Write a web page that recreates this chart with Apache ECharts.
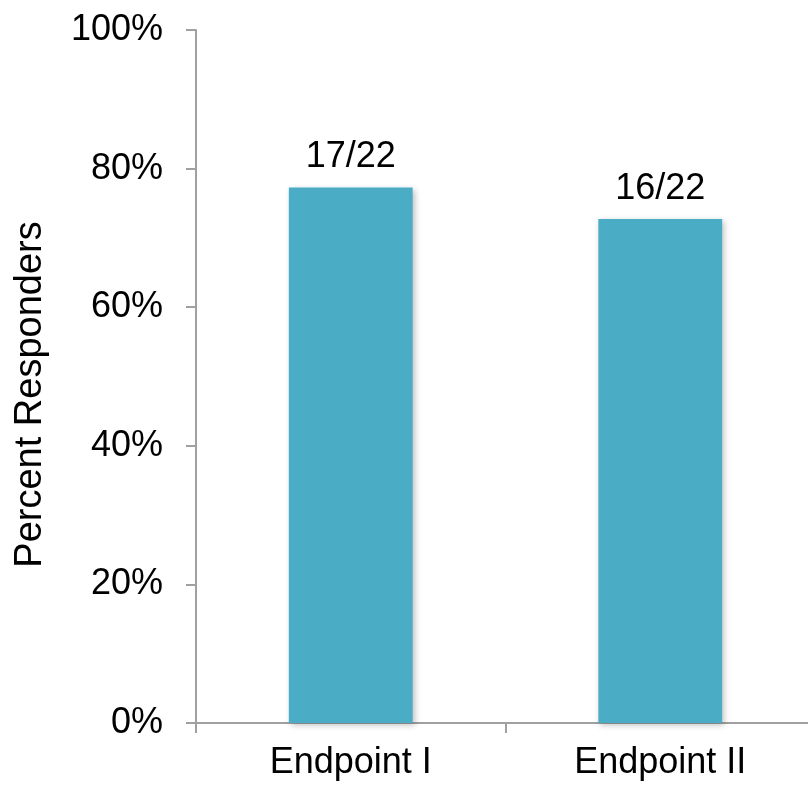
<!DOCTYPE html>
<html>
<head>
<meta charset="utf-8">
<style>
  html, body { margin: 0; padding: 0; background: #fff; }
  #chart { width: 808px; height: 786px; }
</style>
<script src="https://cdn.jsdelivr.net/npm/echarts@6/dist/echarts.min.js"></script>
</head>
<body>
<div id="chart"></div>
<script>
// Responders per endpoint, out of the total evaluated
const categories = ['Endpoint I', 'Endpoint II'];
const responders = [17, 16];
const totals = [22, 22];
const yTickLabels = ['0%', '20%', '40%', '60%', '80%', '100%'];

const percents = responders.map((r, i) => r / totals[i] * 100);
const fractionLabels = responders.map((r, i) => r + '/' + totals[i]);

const axisGray = '#a0a0a0';
const font = 'Liberation Sans, Arial, Helvetica, sans-serif';

const chart = echarts.init(document.getElementById('chart'), null, { renderer: 'canvas' });
chart.setOption({
  animation: false,
  backgroundColor: '#ffffff',
  // plot area runs a little past the right edge of the canvas
  grid: { left: 196, width: 619, top: 30, height: 693, containLabel: false, outerBoundsMode: 'none' },
  xAxis: {
    type: 'category',
    data: categories,
    boundaryGap: true,
    axisLine: { lineStyle: { color: axisGray, width: 2 } },
    axisTick: { show: true, length: 10, interval: 0, alignWithLabel: false, lineStyle: { color: axisGray, width: 2 } },
    axisLabel: { color: '#000', fontSize: 36, fontFamily: font, margin: 22, interval: 0 },
    splitLine: { show: false }
  },
  yAxis: {
    type: 'value',
    min: 0,
    max: 100,
    interval: 20,
    name: 'Percent Responders',
    nameLocation: 'middle',
    nameRotate: 90,
    nameGap: 146,
    nameTextStyle: { color: '#000', fontSize: 38, fontFamily: font, padding: [0, 36, 0, 0] },
    axisLine: { show: true, lineStyle: { color: axisGray, width: 2 } },
    axisTick: { show: true, length: 10, lineStyle: { color: axisGray, width: 2 } },
    axisLabel: {
      color: '#000', fontSize: 36, fontFamily: font, margin: 33,
      formatter: (v) => yTickLabels[Math.round(v / 20)]
    },
    splitLine: { show: false }
  },
  series: [{
    type: 'bar',
    data: percents,
    barWidth: '40%',
    itemStyle: {
      color: '#4bacc6',
      shadowColor: 'rgba(0,0,0,0.25)',
      shadowBlur: 6,
      shadowOffsetX: 2,
      shadowOffsetY: 2
    },
    label: {
      show: true,
      position: 'top',
      distance: 12,
      color: '#000',
      fontSize: 36,
      fontFamily: font,
      formatter: (p) => fractionLabels[p.dataIndex]
    }
  }]
});
</script>
</body>
</html>
